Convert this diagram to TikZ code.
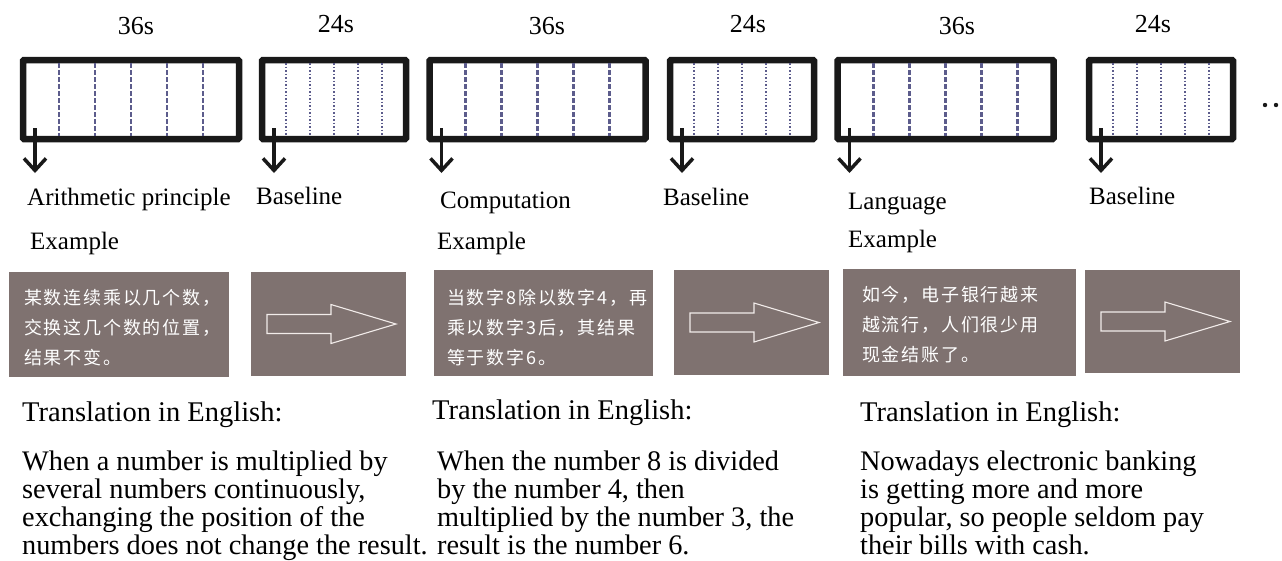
\documentclass[tikz,border=0pt]{standalone}
\usepackage{fontspec}
\setmainfont{Liberation Serif}
\newfontfamily\cjk[LetterSpace=10]{Noto Sans CJK SC}
\usetikzlibrary{arrows.meta,calc}
\definecolor{boxgray}{HTML}{7F7270}
\definecolor{dashcol}{HTML}{5C5C8C}
\definecolor{arrw}{HTML}{F2ECEA}
\newcommand\hollowarrow[1]{%
  \draw[hollow] ([shift={(16,-9.5)}]#1.west) -- ([shift={(80,-9.5)}]#1.west)
    -- ([shift={(80,-19.5)}]#1.west) -- ([shift={(145,0)}]#1.west)
    -- ([shift={(80,19.5)}]#1.west) -- ([shift={(80,9.5)}]#1.west)
    -- ([shift={(16,9.5)}]#1.west) -- cycle;}
\begin{document}
\begin{tikzpicture}[x=1pt,y=-1pt,
  tbox/.style={draw=black!90, line width=6.5pt, rounded corners=1pt, minimum height=79pt, outer sep=0pt, inner sep=0pt},
  longbox/.style={tbox, minimum width=216pt},
  shortbox/.style={tbox, minimum width=144pt},
  tlabel/.style={font=\fontsize{26}{30}\selectfont, inner sep=0pt},
  lab/.style={font=\fontsize{25}{30}\selectfont, anchor=base west, inner sep=0pt},
  gbox/.style={fill=boxgray, inner sep=0pt, outer sep=0pt},
  cn/.style={font=\cjk\fontsize{18}{30}\selectfont, text=white, anchor=north west, align=left, inner sep=0pt},
  trans/.style={font=\fontsize{28.5}{30}\selectfont, anchor=base west, inner sep=0pt},
  para/.style={font=\fontsize{28.3}{28}\selectfont, anchor=north west, align=left, inner sep=0pt},
  downarrow/.style={line width=3.5pt, black!90, -{Straight Barb[length=12pt,width=22pt]}},
  hollow/.style={draw=arrw, line width=1.1pt, line join=miter},
  longdash/.style={dashcol, line width=2.2pt, dash pattern=on 5pt off 2pt, shorten <=3pt, shorten >=3pt},
  shortdash/.style={dashcol, line width=1.8pt, dash pattern=on 1.5pt off 2pt, shorten <=3pt, shorten >=3pt}
]
\useasboundingbox (0,0) rectangle (1282,560);

% time labels
\node[tlabel] (l1) at (136,26) {36s};
\node[tlabel] (l2) at (336,24) {24s};
\node[tlabel] (l3) at (547,26) {36s};
\node[tlabel] (l4) at (748,24) {24s};
\node[tlabel] (l5) at (957,26) {36s};
\node[tlabel] (l6) at (1153,24) {24s};

% timing boxes
\node[longbox]  (t1) at (131,99.5) {};
\node[shortbox] (t2) at (334,99.5) {};
\node[longbox]  (t3) at (537.5,99.5) {};
\node[shortbox] (t4) at (742,99.5) {};
\node[longbox]  (t5) at (945.5,99.5) {};
\node[shortbox] (t6) at (1161,99.5) {};

\foreach \b in {t1,t3,t5}{
  \foreach \k in {1,...,5}{
    \draw[longdash] ($(\b.north west)!\k/6!(\b.north east)$) -- ($(\b.south west)!\k/6!(\b.south east)$);
  }
}
\foreach \b in {t2,t4,t6}{
  \foreach \k in {1,...,5}{
    \draw[shortdash] ($(\b.north west)!\k/6!(\b.north east)$) -- ($(\b.south west)!\k/6!(\b.south east)$);
  }
}

% down arrows
\foreach \b in {t1,t2,t3,t4,t5,t6}{
  \coordinate (\b s) at ([shift={(12,-11)}]\b.south west);
  \coordinate (\b e) at ([shift={(12,34)}]\b.south west);
  \draw[downarrow] (\b s) -- (\b e);
}

% continuation dots
\fill[black!90] (1265,105) circle (2.2);
\fill[black!90] (1276,105) circle (2.2);

% condition labels
\node[lab] (c1) at (27,205) {Arithmetic principle};
\node[lab] (b1) at (256,204) {Baseline};
\node[lab] (e1) at (30,249) {Example};
\node[lab] (c2) at (440,208) {Computation};
\node[lab] (b2) at (663,205) {Baseline};
\node[lab] (e2) at (437,249) {Example};
\node[lab] (c3) at (848,209) {Language};
\node[lab] (b3) at (1089,204) {Baseline};
\node[lab] (e3) at (848,247) {Example};

% gray example boxes
\node[gbox, minimum width=220pt, minimum height=105pt] (g1) at (119,324.5) {};
\node[gbox, minimum width=155pt, minimum height=104pt] (g2) at (328.5,324) {};
\node[gbox, minimum width=219pt, minimum height=106pt] (g3) at (543.5,323) {};
\node[gbox, minimum width=155pt, minimum height=105pt] (g4) at (751.5,322.5) {};
\node[gbox, minimum width=233pt, minimum height=107pt] (g5) at (959.5,322.5) {};
\node[gbox, minimum width=155pt, minimum height=103pt] (g6) at (1162.5,321.5) {};

\node[cn] (z1) at (24,289) {某数连续乘以几个数，\\交换这几个数的位置，\\结果不变。};
\node[cn] (z2) at (447,289) {当数字8除以数字4，再\\乘以数字3后，其结果\\等于数字6。};
\node[cn] (z3) at (862,286) {如今，电子银行越来\\越流行，人们很少用\\现金结账了。};

\hollowarrow{g2}
\hollowarrow{g4}
\hollowarrow{g6}

% translations
\node[trans] (r1) at (22,421) {Translation in English:};
\node[trans] (r2) at (432,419) {Translation in English:};
\node[trans] (r3) at (860,421) {Translation in English:};

\node[para] (p1) at (22,451) {When a number is multiplied by\\several numbers continuously,\\exchanging the position of the\\numbers does not change the result.};
\node[para] (p2) at (437,451) {When the number 8 is divided\\by the number 4, then\\multiplied by the number 3, the\\result is the number 6.};
\node[para] (p3) at (860,451) {Nowadays electronic banking\\is getting more and more\\popular, so people seldom pay\\their bills with cash.};
\end{tikzpicture}
\end{document}
